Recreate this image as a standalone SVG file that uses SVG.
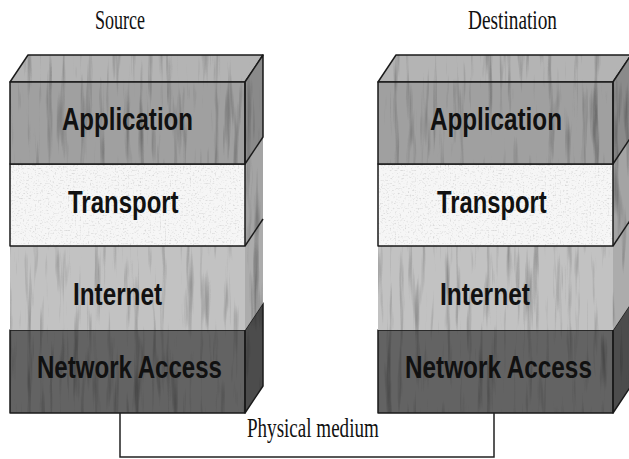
<svg xmlns="http://www.w3.org/2000/svg" width="629" height="459" viewBox="0 0 629 459">
  <defs>
    <filter id="tex" x="0" y="0" width="100%" height="100%" color-interpolation-filters="sRGB">
      <feTurbulence type="fractalNoise" baseFrequency="0.15 0.012" numOctaves="3" seed="7" result="n"/>
      <feColorMatrix in="n" type="saturate" values="0" result="g"/>
      <feComponentTransfer in="g" result="m">
        <feFuncR type="linear" slope="1.1" intercept="0.48"/>
        <feFuncG type="linear" slope="1.1" intercept="0.48"/>
        <feFuncB type="linear" slope="1.1" intercept="0.48"/>
        <feFuncA type="linear" slope="0" intercept="1"/>
      </feComponentTransfer>
      <feBlend in="SourceGraphic" in2="m" mode="multiply" result="b"/>
      <feComposite in="b" in2="SourceGraphic" operator="in"/>
    </filter>
    <filter id="speck" x="0" y="0" width="100%" height="100%" color-interpolation-filters="sRGB">
      <feTurbulence type="fractalNoise" baseFrequency="0.6" numOctaves="1" seed="3" result="n"/>
      <feColorMatrix in="n" type="saturate" values="0" result="g"/>
      <feComponentTransfer in="g" result="m">
        <feFuncR type="linear" slope="0.6" intercept="0.72"/>
        <feFuncG type="linear" slope="0.6" intercept="0.72"/>
        <feFuncB type="linear" slope="0.6" intercept="0.72"/>
        <feFuncA type="linear" slope="0" intercept="1"/>
      </feComponentTransfer>
      <feBlend in="SourceGraphic" in2="m" mode="multiply" result="b"/>
      <feComposite in="b" in2="SourceGraphic" operator="in"/>
    </filter>
  </defs>
  <style>
    .edge { stroke: #1a1a1a; stroke-width: 1.5; stroke-linejoin: round; }
    .top { fill: #b4b4b4; filter: url(#tex); }
    .app { fill: #a0a0a0; filter: url(#tex); }
    .appside { fill: #8a8a8a; filter: url(#tex); }
    .trn { fill: #f6f6f6; filter: url(#speck); }
    .trnside { fill: #a4a4a4; filter: url(#tex); }
    .inet { fill: #c2c2c2; filter: url(#tex); }
    .inetside { fill: #acacac; filter: url(#tex); }
    .na { fill: #636363; filter: url(#tex); }
    .naside { fill: #4c4c4c; filter: url(#tex); }
    .lbl { font-family: "Liberation Sans", Arial, sans-serif; font-weight: bold; font-size: 32px; fill: #111; }
    .cap { font-family: "Liberation Serif", "Times New Roman", serif; font-size: 27px; fill: #111; }
    .line { fill: none; stroke: #222; stroke-width: 1.5; }
  </style>

  <text class="cap" transform="translate(95 29) scale(0.667 1)">Source</text>
  <text class="cap" transform="translate(468 29) scale(0.715 1)">Destination</text>

  <!-- Source stack -->
  <g id="source-stack">
    <g id="src-top">
      <polygon class="top" points="10,82 28,55 263,55 245,82"/>
      <polygon class="edge" fill="none" points="10,82 28,55 263,55 245,82"/>
    </g>
    <g id="src-network-access">
      <polygon class="naside" points="245,330 263,303 263,386 245,413"/>
      <rect class="na" x="10" y="330" width="235" height="83"/>
      <polygon class="edge" fill="none" points="245,330 263,303 263,386 245,413"/>
      <rect class="edge" fill="none" x="10" y="330" width="235" height="83"/>
      <text class="lbl" transform="translate(37 378) scale(0.752 1)">Network Access</text>
    </g>
    <g id="src-internet">
      <polygon class="inetside" points="245,246 263,219 263,303 245,330"/>
      <rect class="inet" x="10" y="246" width="235" height="84"/>
      <text class="lbl" transform="translate(73 305) scale(0.759 1)">Internet</text>
    </g>
    <g id="src-transport">
      <polygon class="trnside" points="245,164 263,137 263,219 245,246"/>
      <rect class="trn" x="10" y="164" width="235" height="82"/>
      <polyline class="edge" fill="none" points="245,246 263,219"/>
      <rect class="edge" fill="none" x="10" y="164" width="235" height="82"/>
      <text class="lbl" transform="translate(68 213) scale(0.75 1)">Transport</text>
    </g>
    <g id="src-application">
      <polygon class="appside" points="245,82 263,55 263,137 245,164"/>
      <rect class="app" x="10" y="82" width="235" height="82"/>
      <polygon class="edge" fill="none" points="245,82 263,55 263,137 245,164"/>
      <rect class="edge" fill="none" x="10" y="82" width="235" height="82"/>
      <text class="lbl" transform="translate(62 130) scale(0.752 1)">Application</text>
    </g>
  </g>

  <!-- Destination stack -->
  <g id="destination-stack">
    <g id="dst-top">
      <polygon class="top" points="378,82 396,55 631,55 613,82"/>
      <polygon class="edge" fill="none" points="378,82 396,55 631,55 613,82"/>
    </g>
    <g id="dst-network-access">
      <polygon class="naside" points="613,330 631,303 631,386 613,413"/>
      <rect class="na" x="378" y="330" width="235" height="83"/>
      <polygon class="edge" fill="none" points="613,330 631,303 631,386 613,413"/>
      <rect class="edge" fill="none" x="378" y="330" width="235" height="83"/>
      <text class="lbl" transform="translate(405 378) scale(0.76 1)">Network Access</text>
    </g>
    <g id="dst-internet">
      <polygon class="inetside" points="613,246 631,219 631,303 613,330"/>
      <rect class="inet" x="378" y="246" width="235" height="84"/>
      <text class="lbl" transform="translate(440 305) scale(0.767 1)">Internet</text>
    </g>
    <g id="dst-transport">
      <polygon class="trnside" points="613,164 631,137 631,219 613,246"/>
      <rect class="trn" x="378" y="164" width="235" height="82"/>
      <polyline class="edge" fill="none" points="613,246 631,219"/>
      <rect class="edge" fill="none" x="378" y="164" width="235" height="82"/>
      <text class="lbl" transform="translate(437 213) scale(0.743 1)">Transport</text>
    </g>
    <g id="dst-application">
      <polygon class="appside" points="613,82 631,55 631,137 613,164"/>
      <rect class="app" x="378" y="82" width="235" height="82"/>
      <polygon class="edge" fill="none" points="613,82 631,55 631,137 613,164"/>
      <rect class="edge" fill="none" x="378" y="82" width="235" height="82"/>
      <text class="lbl" transform="translate(430 130) scale(0.758 1)">Application</text>
    </g>
  </g>

  <!-- Connectors -->
  <g id="connectors">
    <path class="line" d="M120,413 V457 H494 V413"/>
  </g>
  <text class="cap" transform="translate(247 437) scale(0.706 1)">Physical medium</text>
</svg>
